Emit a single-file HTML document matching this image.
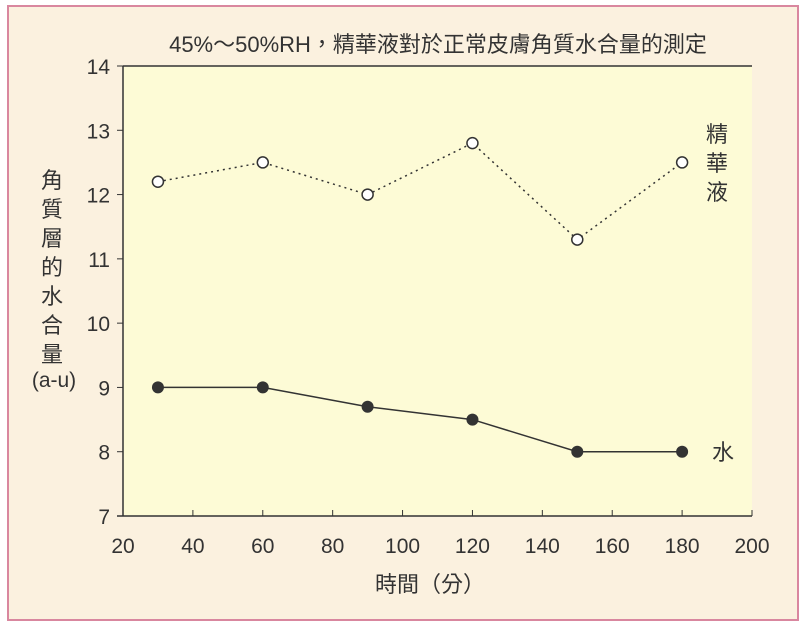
<!DOCTYPE html>
<html><head><meta charset="utf-8"><style>
html,body{margin:0;padding:0;background:#fff;}
svg{display:block;font-family:"Liberation Sans","Noto Sans CJK TC",sans-serif;}
</style></head><body>
<svg id="c" width="806" height="629" viewBox="0 0 806 629">
<rect x="8" y="6" width="790" height="614" fill="#fbf1df" stroke="#d9879f" stroke-width="2"/>
<rect x="123" y="66" width="629" height="450" fill="#fdfbd6"/>
<text x="438" y="52" font-size="22" text-anchor="middle" fill="#333">45%～50%RH，精華液對於正常皮膚角質水合量的測定</text>
<g id="axes"></g>
<g id="series"></g>
<text x="430" y="592" font-size="22" text-anchor="middle" fill="#333">時間（分）</text>
<g font-size="22" fill="#333" text-anchor="middle">
<text x="52" y="188">角</text><text x="52" y="217">質</text><text x="52" y="246">層</text><text x="52" y="275">的</text><text x="52" y="304">水</text><text x="52" y="333">合</text><text x="52" y="362">量</text><text x="54" y="387" font-size="21">(a-u)</text>
</g>
<g font-size="22" fill="#333" text-anchor="middle">
<text x="717" y="142">精</text><text x="717" y="171">華</text><text x="717" y="200">液</text></g>
<text x="712" y="460" font-size="22" fill="#333">水</text>
</svg>
<script>
const xTicks=[20,40,60,80,100,120,140,160,180,200];
const yTicks=[7,8,9,10,11,12,13,14];
const times=[30,60,90,120,150,180];
const serum=[12.2,12.5,12.0,12.8,11.3,12.5];
const water=[9.0,9.0,8.7,8.5,8.0,8.0];
const X=v=>123+(v-20)*629/180;
const Y=v=>516-(v-7)*450/7;
const NS="http://www.w3.org/2000/svg";
function mk(t,a,p){const e=document.createElementNS(NS,t);for(const k in a)e.setAttribute(k,a[k]);p.appendChild(e);return e;}
const ax=document.getElementById('axes'),se=document.getElementById('series');
let e=mk('line',{x1:123,y1:66,x2:752,y2:66,stroke:'#333','stroke-width':1.5},ax);


e=mk('line',{x1:123,y1:66,x2:123,y2:516,stroke:'#333','stroke-width':1.5},ax);


e=mk('line',{x1:117,y1:516,x2:752,y2:516,stroke:'#333','stroke-width':1.5},ax);


yTicks.forEach(v=>{
 e=mk('line',{x1:117,y1:Y(v),x2:123,y2:Y(v),stroke:'#333'},ax);
 
 
 e=mk('text',{x:110,y:Y(v)+8,'font-size':21,'text-anchor':'end',fill:'#333'},ax);e.textContent=v;
 
 
});
xTicks.forEach(v=>{
 e=mk('line',{x1:X(v),y1:510,x2:X(v),y2:516,stroke:'#333'},ax);
 
 
 e=mk('text',{x:X(v),y:553,'font-size':21,'text-anchor':'middle',fill:'#333'},ax);e.textContent=v;
 
 
});
e=mk('polyline',{points:times.map((t,i)=>X(t)+','+Y(serum[i])).join(' '),fill:'none',stroke:'#333','stroke-width':1.5,'stroke-dasharray':'2,4'},se);


e=mk('polyline',{points:times.map((t,i)=>X(t)+','+Y(water[i])).join(' '),fill:'none',stroke:'#333','stroke-width':1.5},se);


times.forEach((t,i)=>{
 e=mk('circle',{cx:X(t),cy:Y(serum[i]),r:5.5,fill:'#fff',stroke:'#333','stroke-width':1.5},se);
 
 
 e=mk('circle',{cx:X(t),cy:Y(water[i]),r:6,fill:'#333'},se);
 
 
});
</script>
</body></html>
